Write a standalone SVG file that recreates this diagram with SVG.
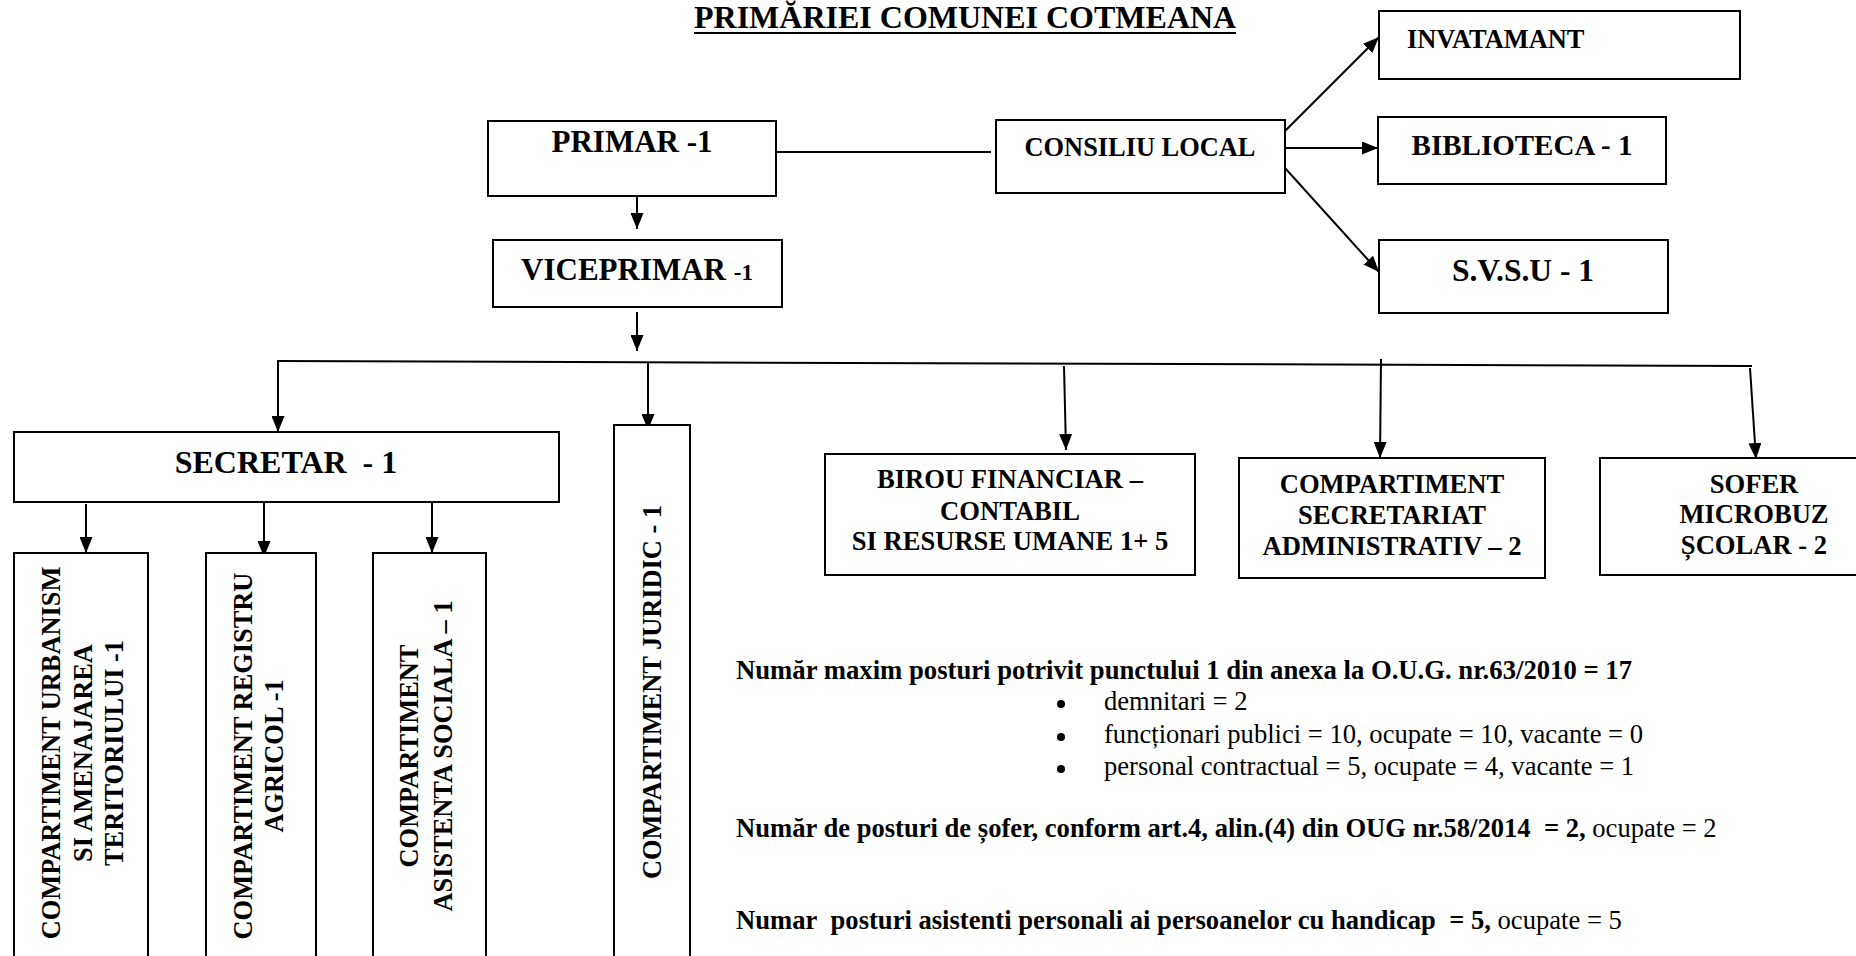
<svg xmlns="http://www.w3.org/2000/svg" width="1856" height="956" viewBox="0 0 1856 956">
<style>
.box{fill:#fff;stroke:#000;stroke-width:2}
.t{font-family:"Liberation Serif","Times New Roman",serif;font-weight:bold;fill:#000}
.n{font-family:"Liberation Serif","Times New Roman",serif;font-weight:normal;fill:#000}
.c{text-anchor:middle}
.ln{stroke:#000;stroke-width:2;fill:none}
.ar{stroke:#000;stroke-width:2;fill:none;marker-end:url(#ah)}
</style>
<defs>
<marker id="ah" markerUnits="userSpaceOnUse" markerWidth="17" markerHeight="13" refX="16" refY="6.5" orient="auto" viewBox="0 0 17 13">
<path d="M0,0 L16,6.5 L0,13 Z" fill="#000"/>
</marker>
</defs>
<rect width="1856" height="956" fill="#fff"/>

<g id="title">
<text class="t" x="694" y="28" font-size="32">PRIMĂRIEI COMUNEI COTMEANA</text>
<line x1="694" y1="33" x2="1236" y2="33" stroke="#000" stroke-width="2.2"/>
</g>

<g id="connectors">
<line class="ln" x1="776" y1="152" x2="991" y2="152"/>
<line class="ar" x1="1285" y1="131" x2="1379" y2="37"/>
<line class="ar" x1="1285" y1="148" x2="1378" y2="148"/>
<line class="ar" x1="1285" y1="168" x2="1379" y2="272"/>
<line class="ar" x1="637" y1="193" x2="637" y2="229"/>
<line class="ar" x1="637" y1="312" x2="637" y2="351"/>
<line class="ln" x1="277" y1="361" x2="1752" y2="366"/>
<line class="ar" x1="278" y1="361" x2="278" y2="432"/>
<line class="ar" x1="648" y1="362" x2="648" y2="430" stroke-width="1.5"/>
<line class="ar" x1="1064" y1="366" x2="1066" y2="450"/>
<line class="ar" x1="1381" y1="359" x2="1380" y2="458"/>
<line class="ar" x1="1750" y1="368" x2="1756" y2="459"/>
<line class="ar" x1="86" y1="504" x2="86" y2="553"/>
<line class="ar" x1="264" y1="487" x2="264" y2="557"/>
<line class="ar" x1="432" y1="502" x2="432" y2="553"/>
</g>

<g id="primar">
<rect class="box" x="488" y="121" width="288" height="75" stroke-width="1.5"/>
<text class="t c" x="632" y="152" font-size="31">PRIMAR -1</text>
</g>
<g id="viceprimar">
<rect class="box" x="493" y="240" width="289" height="67"/>
<text class="t c" x="637" y="280" font-size="31">VICEPRIMAR <tspan font-size="23">-1</tspan></text>
</g>
<g id="consiliu">
<rect class="box" x="996" y="120" width="289" height="73"/>
<text class="t c" x="1140" y="156" font-size="26.4">CONSILIU LOCAL</text>
</g>
<g id="invatamant">
<rect class="box" x="1379" y="11" width="361" height="68"/>
<text class="t" x="1407" y="48" font-size="26.4">INVATAMANT</text>
</g>
<g id="biblioteca">
<rect class="box" x="1378" y="117" width="288" height="67"/>
<text class="t c" x="1522" y="155" font-size="29">BIBLIOTECA - 1</text>
</g>
<g id="svsu">
<rect class="box" x="1379" y="240" width="289" height="73"/>
<text class="t c" x="1523" y="281" font-size="31.5">S.V.S.U - 1</text>
</g>

<g id="secretar">
<rect class="box" x="14" y="432" width="545" height="70"/>
<text class="t c" x="286" y="473" font-size="32">SECRETAR&#160; - 1</text>
</g>
<g id="urbanism">
<rect class="box" x="14" y="553" width="134" height="420"/>
<text class="t c" font-size="26.4" transform="translate(60,753) rotate(-90)"><tspan x="0" y="0">COMPARTIMENT URBANISM</tspan><tspan x="0" dy="32">SI AMENAJAREA</tspan><tspan x="0" dy="31">TERITORIULUI -1</tspan></text>
</g>
<g id="registru">
<rect class="box" x="206" y="553" width="110" height="420"/>
<text class="t c" font-size="26.4" transform="translate(252,756) rotate(-90)"><tspan x="0" y="0">COMPARTIMENT REGISTRU</tspan><tspan x="0" dy="31">AGRICOL -1</tspan></text>
</g>
<g id="asistenta">
<rect class="box" x="373" y="553" width="113" height="420"/>
<text class="t c" font-size="26.4" transform="translate(418,756) rotate(-90)"><tspan x="0" y="0">COMPARTIMENT</tspan><tspan x="0" dy="34">ASISTENTA SOCIALA – 1</tspan></text>
</g>
<g id="juridic">
<rect class="box" x="614" y="425" width="76" height="550"/>
<text class="t c" font-size="26.4" transform="translate(661,692) rotate(-90)">COMPARTIMENT JURIDIC - 1</text>
</g>
<g id="birou">
<rect class="box" x="825" y="454" width="370" height="121"/>
<text class="t c" font-size="26.6"><tspan x="1010" y="488">BIROU FINANCIAR –</tspan><tspan x="1010" y="520">CONTABIL</tspan><tspan x="1010" y="550">SI RESURSE UMANE 1+ 5</tspan></text>
</g>
<g id="secretariat">
<rect class="box" x="1239" y="458" width="306" height="120"/>
<text class="t c" font-size="26.6"><tspan x="1392" y="493">COMPARTIMENT</tspan><tspan x="1392" y="524">SECRETARIAT</tspan><tspan x="1392" y="555">ADMINISTRATIV – 2</tspan></text>
</g>
<g id="sofer">
<rect class="box" x="1600" y="458" width="280" height="117"/>
<text class="t c" font-size="26.6"><tspan x="1754" y="493">SOFER</tspan><tspan x="1754" y="523">MICROBUZ</tspan><tspan x="1754" y="554">ȘCOLAR - 2</tspan></text>
</g>

<g id="notes">
<text class="t" x="736" y="679" font-size="26.7">Număr maxim posturi potrivit punctului 1 din anexa la O.U.G. nr.63/2010 = 17</text>
<circle cx="1061" cy="704" r="4"/>
<circle cx="1061" cy="737" r="4"/>
<circle cx="1061" cy="769" r="4"/>
<text class="n" x="1104" y="710" font-size="26.6">demnitari = 2</text>
<text class="n" x="1104" y="743" font-size="26.6">funcționari publici = 10, ocupate = 10, vacante = 0</text>
<text class="n" x="1104" y="775" font-size="26.6">personal contractual = 5, ocupate = 4, vacante = 1</text>
<text class="t" x="736" y="837" font-size="26.6">Număr de posturi de șofer, conform art.4, alin.(4) din OUG nr.58/2014&#160; = 2,<tspan class="n"> ocupate = 2</tspan></text>
<text class="t" x="736" y="929" font-size="26.6">Numar&#160; posturi asistenti personali ai persoanelor cu handicap&#160; = 5,<tspan class="n"> ocupate = 5</tspan></text>
</g>
</svg>
